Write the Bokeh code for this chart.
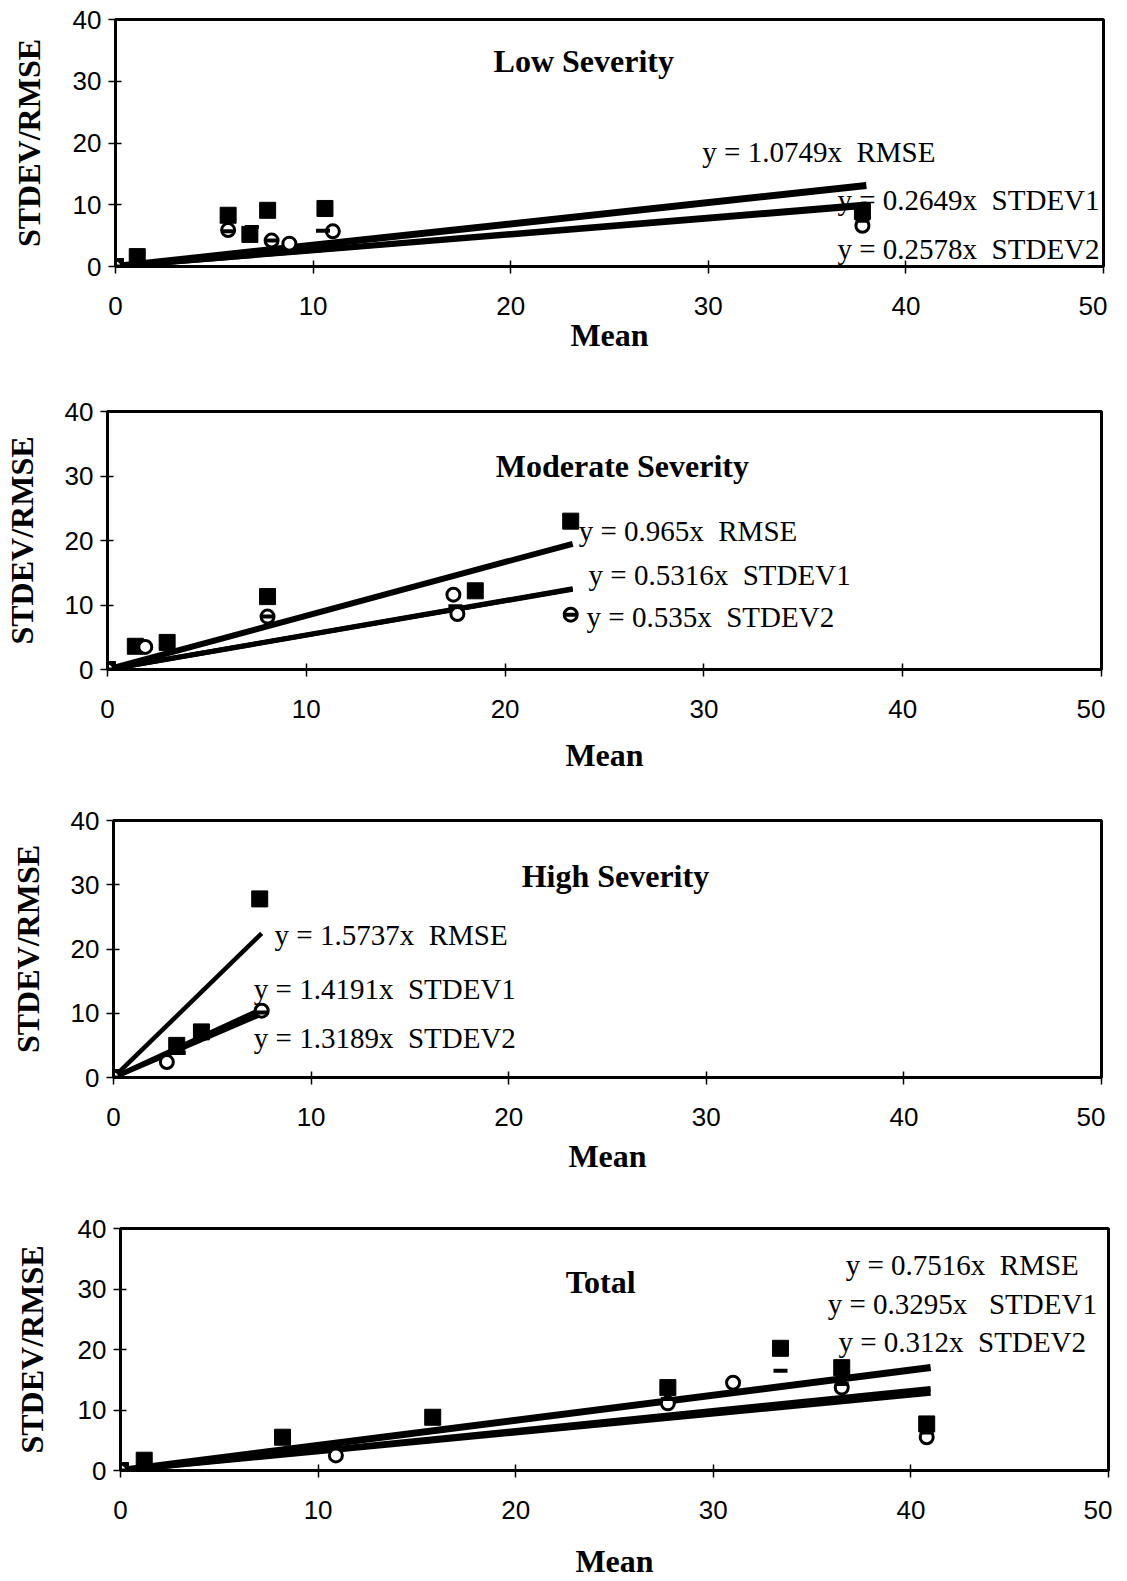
from bokeh.plotting import figure
from bokeh.layouts import column
from bokeh.models import Label, FixedTicker, Range1d
from bokeh.embed import file_html
from bokeh.resources import INLINE

# ---------------- data ----------------
x_ticks = [0, 10, 20, 30, 40, 50]
y_ticks = [0, 10, 20, 30, 40]

# Low severity
low_rmse_x = [0, 1.1, 5.7, 6.8, 7.7, 10.6, 37.8]
low_rmse_y = [0, 1.6, 8.3, 5.2, 9.1, 9.4, 8.9]
low_sd1_x = [0, 5.7, 7.9, 8.8, 11.0, 37.8]
low_sd1_y = [0, 5.9, 4.2, 3.7, 5.7, 6.6]
low_sd2_x = [0, 5.7, 6.9, 7.9, 10.5, 37.8]
low_sd2_y = [0, 5.7, 6.4, 4.2, 5.8, 7.4]
low_slopes = [0.345, 0.2649, 0.2578]      # drawn RMSE, STDEV1, STDEV2 trend lines
low_xmax = 38.0
low_eqs = ["y = 1.0749x\u00a0\u00a0RMSE", "y = 0.2649x\u00a0\u00a0STDEV1", "y = 0.2578x\u00a0\u00a0STDEV2"]

# Moderate severity
mod_rmse_x = [0, 1.4, 3.0, 8.05, 18.5, 23.3]
mod_rmse_y = [0, 3.6, 4.2, 11.3, 12.2, 23.0]
mod_sd1_x = [0, 1.9, 8.05, 17.4, 17.6, 23.3]
mod_sd1_y = [0, 3.5, 8.2, 11.6, 8.6, 8.5]
mod_sd2_x = [0, 8.05, 17.5, 23.3]
mod_sd2_y = [0, 8.2, 9.8, 8.5]
mod_slopes = [0.833, 0.5316, 0.535]
mod_xmax = 23.4
mod_eqs = ["y = 0.965x\u00a0\u00a0RMSE", "y = 0.5316x\u00a0\u00a0STDEV1", "y = 0.535x\u00a0\u00a0STDEV2"]

# High severity
high_rmse_x = [0, 3.2, 4.45, 7.4]
high_rmse_y = [0, 5.0, 7.1, 27.8]
high_sd1_x = [0, 2.7, 7.5]
high_sd1_y = [0, 2.4, 10.4]
high_sd2_x = [0, 3.3, 7.5]
high_sd2_y = [0, 3.8, 10.1]
high_slopes = [2.99, 1.4191, 1.3189]
high_xmax = 7.5
high_eqs = ["y = 1.5737x\u00a0\u00a0RMSE", "y = 1.4191x\u00a0\u00a0STDEV1", "y = 1.3189x\u00a0\u00a0STDEV2"]

# Total
tot_rmse_x = [0, 1.2, 8.2, 15.8, 27.7, 33.4, 36.5, 40.8]
tot_rmse_y = [0, 1.7, 5.5, 8.8, 13.7, 20.2, 17.0, 7.7]
tot_sd1_x = [0, 10.9, 27.7, 31.0, 36.5, 40.8]
tot_sd1_y = [0, 2.5, 11.1, 14.5, 13.7, 5.5]
tot_sd2_x = [0, 27.7, 33.4, 36.5, 40.8]
tot_sd2_y = [0, 11.8, 16.5, 14.3, 6.3]
tot_slopes = [0.415, 0.3295, 0.312]
tot_xmax = 41.0
tot_eqs = ["y = 0.7516x\u00a0\u00a0RMSE", "y = 0.3295x\u00a0\u00a0\u00a0STDEV1", "y = 0.312x\u00a0\u00a0STDEV2"]

SERIF = "'Liberation Serif', 'Times New Roman', serif"
NARROW = "'Liberation Sans Narrow', 'Arial Narrow', 'Liberation Sans', sans-serif"


def panel(title, title_xy, rmse, sd1, sd2, slopes, xmax, eqs, eq_pos, widths,
          fw, fh, bl, bt, bb, ylab_standoff, xlab_standoff):
    p = figure(frame_width=fw, frame_height=fh, min_border_left=bl, min_border_right=4,
               min_border_top=bt, min_border_bottom=bb,
               x_range=Range1d(0, 50), y_range=Range1d(0, 40),
               output_backend="svg", toolbar_location=None, title=None)
    p.frame_align = False
    p.grid.visible = False
    p.outline_line_color = "black"
    p.outline_line_width = 3
    p.outline_line_alpha = 1
    p.background_fill_color = "white"
    p.border_fill_color = "white"

    for ax, ticks in ((p.xaxis, x_ticks), (p.yaxis, y_ticks)):
        ax.ticker = FixedTicker(ticks=ticks)
        ax.axis_line_color = "black"
        ax.axis_line_width = 3
        ax.major_tick_line_color = "black"
        ax.major_tick_line_width = 1.5
        ax.major_tick_in = 6
        ax.major_tick_out = 7
        ax.minor_tick_line_color = None
        ax.major_label_text_font = NARROW
        ax.major_label_text_font_size = "26px"
        ax.major_label_text_color = "black"
        ax.axis_label_text_font = SERIF
        ax.axis_label_text_font_style = "bold"
        ax.axis_label_text_font_size = "32px"
        ax.axis_label_text_color = "black"
    p.xaxis.major_label_standoff = 23
    p.yaxis.major_label_standoff = 7
    p.xaxis.axis_label = "Mean"
    p.yaxis.axis_label = "STDEV/RMSE"
    p.xaxis.axis_label_standoff = xlab_standoff
    p.yaxis.axis_label_standoff = ylab_standoff

    # trend lines through origin
    for s, w in zip(slopes, widths):
        p.line([0, xmax], [0, s * xmax], line_color="black", line_width=w)

    p.scatter(rmse[0], rmse[1], marker="square", size=16, fill_color="black", line_color="black")
    p.scatter(sd1[0], sd1[1], marker="circle", size=13, fill_color="white", line_color="black", line_width=3)
    p.scatter(sd2[0], sd2[1], marker="dash", size=14, line_color="black", line_width=4)

    p.add_layout(Label(x=title_xy[0], y=title_xy[1], text=title, text_font=SERIF,
                       text_font_style="bold", text_font_size="32px", text_align="center",
                       text_baseline="middle", text_color="black"))
    for t, (ex, ey, al) in zip(eqs, eq_pos):
        p.add_layout(Label(x=ex, y=ey, text=t, text_font=SERIF, text_font_size="29px",
                           text_align=al, text_baseline="middle", text_color="black"))
    return p


p1 = panel("Low Severity", (23.7, 33.3),
           (low_rmse_x, low_rmse_y), (low_sd1_x, low_sd1_y), (low_sd2_x, low_sd2_y),
           low_slopes, low_xmax, low_eqs,
           [(29.7, 18.6, "left"), (49.8, 10.7, "right"), (49.8, 2.9, "right")],
           [7, 5.5, 5.5], fw=988, fh=247, bl=115, bt=19, bb=107,
           ylab_standoff=23, xlab_standoff=-1)

p2 = panel("Moderate Severity", (25.9, 31.5),
           (mod_rmse_x, mod_rmse_y), (mod_sd1_x, mod_sd1_y), (mod_sd2_x, mod_sd2_y),
           mod_slopes, mod_xmax, mod_eqs,
           [(23.7, 21.4, "left"), (24.2, 14.6, "left"), (24.1, 8.1, "left")],
           [6, 5, 5], fw=994, fh=258, bl=105, bt=38, bb=115,
           ylab_standoff=22, xlab_standoff=16)

p3 = panel("High Severity", (25.4, 31.4),
           (high_rmse_x, high_rmse_y), (high_sd1_x, high_sd1_y), (high_sd2_x, high_sd2_y),
           high_slopes, high_xmax, high_eqs,
           [(8.15, 22.2, "left"), (7.1, 13.7, "left"), (7.1, 6.2, "left")],
           [4.5, 5, 5], fw=988, fh=257, bl=113, bt=36, bb=110,
           ylab_standoff=22, xlab_standoff=9)

p4 = panel("Total", (24.3, 31.2),
           (tot_rmse_x, tot_rmse_y), (tot_sd1_x, tot_sd1_y), (tot_sd2_x, tot_sd2_y),
           tot_slopes, tot_xmax, tot_eqs,
           [(42.6, 33.9, "center"), (42.6, 27.6, "center"), (42.6, 21.2, "center")],
           [7, 5.5, 5.5], fw=988, fh=242, bl=120, bt=41, bb=100,
           ylab_standoff=25, xlab_standoff=21)

layout = column(p1, p2, p3, p4, spacing=0)
open("out.html", "w").write(file_html(layout, INLINE))
